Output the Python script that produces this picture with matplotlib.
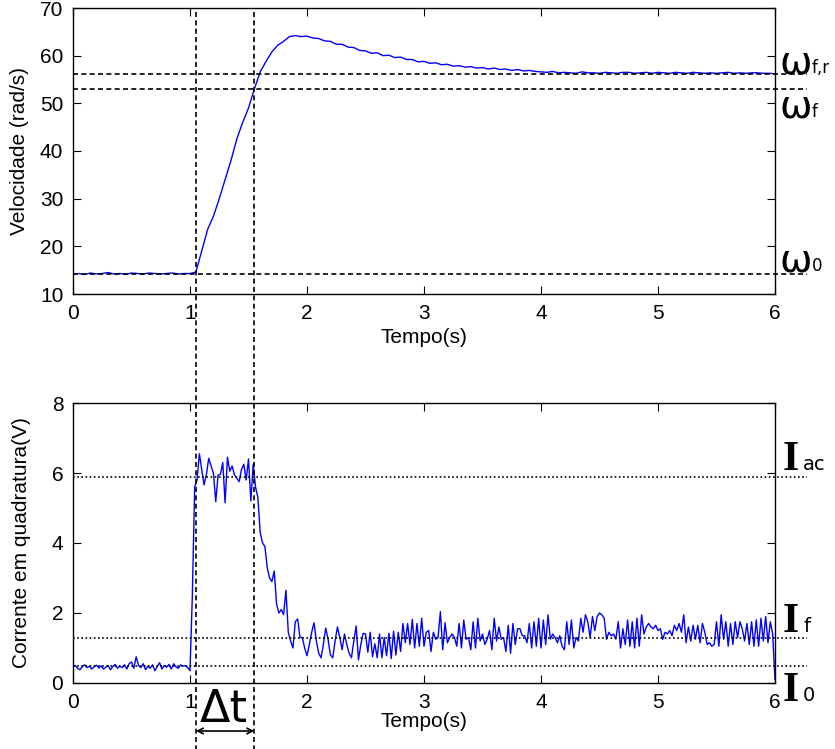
import numpy as np
import matplotlib
matplotlib.use("Agg")
import matplotlib.pyplot as plt
from matplotlib.transforms import blended_transform_factory

# ---------------- data ----------------
# velocity (rad/s), sampled every 0.05 s from 0 to 6 s
vel_dt = 0.05
velocity = [
    14.2, 14.3, 14.1, 14.4, 14.2, 14.3, 14.5, 14.2, 14.3, 14.1,
    14.4, 14.3, 14.2, 14.4, 14.3, 14.2, 14.3, 14.4, 14.2, 14.3,
    14.3, 14.6, 19.0, 23.5, 26.3, 30.0, 34.0, 38.0, 42.5, 46.0,
    49.0, 53.0, 56.6, 58.8, 60.8, 62.2, 63.0, 64.0, 64.2, 64.0,
    64.1, 63.7, 63.6, 63.1, 63.0, 62.4, 62.4, 61.8, 61.7, 61.1,
    61.0, 60.5, 60.6, 60.0, 60.1, 59.6, 59.7, 59.2, 59.2, 58.7,
    58.8, 58.4, 58.5, 58.1, 58.2, 57.8, 57.9, 57.6, 57.7, 57.4,
    57.5, 57.2, 57.4, 57.1, 57.2, 56.9, 57.1, 56.8, 56.9, 56.7,
    56.6, 56.5, 56.7, 56.4, 56.5, 56.4, 56.3, 56.6, 56.4, 56.4,
    56.3, 56.5, 56.4, 56.3, 56.5, 56.5, 56.3, 56.4, 56.5, 56.3,
    56.5, 56.4, 56.3, 56.5, 56.4, 56.3, 56.5, 56.4, 56.3, 56.4,
    56.3, 56.4, 56.5, 56.3, 56.4, 56.3, 56.4, 56.4, 56.3, 56.3,
    56.2,
]

# quadrature current (V), sampled every 0.02 s from 0 to 6 s
cur_dt = 0.02
current = [
    # 0.00 - 0.98
    0.45, 0.50, 0.42, 0.38, 0.47, 0.52, 0.44, 0.48, 0.40, 0.46,
    0.51, 0.43, 0.49, 0.40, 0.45, 0.50, 0.38, 0.47, 0.53, 0.42,
    0.48, 0.44, 0.52, 0.40, 0.55, 0.60, 0.42, 0.75, 0.50, 0.44,
    0.55, 0.38, 0.48, 0.42, 0.52, 0.35, 0.47, 0.58, 0.40, 0.50,
    0.45, 0.53, 0.40, 0.55, 0.46, 0.42, 0.52, 0.48, 0.50, 0.44,
    # 1.00 - 1.98
    0.35, 2.50, 5.60, 5.80, 6.55, 6.10, 5.66, 5.95, 6.42, 6.20,
    6.00, 5.18, 5.94, 5.96, 6.30, 5.15, 6.45, 6.05, 6.20, 5.95,
    5.85, 5.75, 6.10, 6.25, 5.80, 6.40, 5.20, 6.25, 5.60, 5.30,
    4.30, 4.00, 3.90, 3.30, 3.00, 2.90, 3.20, 2.25, 2.00, 2.10,
    1.95, 2.65, 1.45, 1.20, 1.00, 1.75, 1.83, 1.30, 1.30, 1.00,
    # 2.00 - 2.98
    0.78, 1.10, 1.45, 1.72, 1.20, 0.85, 0.72, 1.10, 1.57, 1.25,
    0.80, 0.72, 1.20, 1.60, 1.30, 0.95, 1.40, 1.10, 0.85, 0.72,
    1.20, 1.63, 0.66, 1.10, 1.42, 1.40, 0.88, 1.45, 0.75, 1.12,
    0.72, 1.40, 0.72, 1.30, 0.78, 1.42, 0.70, 1.48, 0.80, 1.45,
    0.90, 1.70, 1.15, 1.70, 1.10, 1.82, 1.00, 1.70, 1.05, 1.85,
    # 3.00 - 3.98
    1.05, 1.45, 1.50, 0.90, 1.45, 1.25, 1.30, 2.04, 0.95, 1.72,
    1.15, 1.30, 1.40, 1.30, 1.05, 1.70, 1.00, 1.80, 1.25, 1.30,
    0.95, 1.75, 1.00, 1.85, 1.20, 1.40, 1.10, 1.25, 1.50, 0.95,
    1.85, 1.20, 1.60, 1.25, 1.30, 0.90, 1.65, 0.85, 1.70, 1.10,
    1.55, 1.55, 1.35, 1.35, 1.15, 1.70, 1.00, 1.75, 1.05, 1.85,
    # 4.00 - 4.98
    1.00, 1.80, 1.10, 1.95, 1.25, 1.40, 1.30, 1.15, 1.35, 1.05,
    0.95, 1.75, 1.10, 1.80, 1.00, 1.30, 1.20, 1.85, 1.45, 1.95,
    1.75, 1.30, 1.90, 1.50, 1.90, 2.00, 1.95, 1.85, 1.25, 1.45,
    1.35, 1.40, 1.25, 1.75, 1.00, 1.55, 1.10, 1.80, 1.05, 1.75,
    1.00, 1.85, 1.05, 1.95, 1.40, 1.60, 1.70, 1.60, 1.55, 1.65,
    # 5.00 - 5.98
    1.50, 1.55, 1.25, 1.45, 1.40, 1.50, 1.35, 1.65, 1.50, 1.70,
    1.45, 1.95, 1.15, 1.60, 1.20, 1.65, 1.25, 1.65, 1.15, 1.70,
    1.45, 1.10, 1.15, 1.05, 1.10, 1.75, 1.05, 1.95, 1.25, 1.75,
    1.05, 1.70, 1.10, 1.75, 1.30, 1.75, 1.55, 1.20, 1.70, 1.10,
    1.75, 1.05, 1.80, 1.05, 1.85, 1.20, 1.90, 1.15, 1.75, 1.40,
    # 6.00
    0.10,
]

# reference levels
omega_0 = 14.3
omega_f = 53.0
omega_fr = 56.2
I_0 = 0.5
I_f = 1.3
I_ac = 5.9
t_start = 1.05
t_end = 1.55

t_vel = np.arange(len(velocity)) * vel_dt
t_cur = np.arange(len(current)) * cur_dt

# ---------------- figure ----------------
plt.rcParams['font.family'] = ['Liberation Sans', 'DejaVu Sans']
fig = plt.figure(figsize=(8.35, 7.49), dpi=100)

W, H = 835, 749
def axrect(x0, y0, x1, y1):
    return [x0 / W, 1 - y1 / H, (x1 - x0) / W, (y1 - y0) / H]

ax1 = fig.add_axes(axrect(73, 8, 775, 294))
ax2 = fig.add_axes(axrect(73, 403, 775, 683))

fs = 15
for ax in (ax1, ax2):
    ax.tick_params(direction='in', top=True, right=True, length=6,
                   width=0.8, labelsize=fs, colors='black', pad=7)
    for s in ax.spines.values():
        s.set_linewidth(1.0)
    ax.set_xlim(0, 6)
    ax.set_xticks(range(0, 7))

ax1.plot(t_vel, velocity, color='#0000ff', lw=1.0)
ax1.set_ylim(10, 70)
ax1.set_yticks(range(10, 71, 10))
ax1.set_xlabel('Tempo(s)', fontsize=fs, labelpad=4)
ax1.set_ylabel('Velocidade (rad/s)', fontsize=fs, labelpad=8)

ax2.plot(t_cur, current, color='#0000ff', lw=1.0)
ax2.set_ylim(0, 8)
ax2.set_yticks(range(0, 9, 2))
ax2.set_xlabel('Tempo(s)', fontsize=fs, labelpad=0)
ax2.set_ylabel('Corrente em quadratura(V)', fontsize=fs, labelpad=15)

x_ext = 6.27
for v in (omega_0, omega_f, omega_fr):
    ax1.plot([0, x_ext], [v, v], color='black', lw=1.2,
             dashes=(3, 2), clip_on=False, zorder=3)
for v in (I_0, I_f, I_ac):
    ax2.plot([0, x_ext], [v, v], color='black', lw=1.2,
             linestyle=(0, (1, 1.5)), clip_on=False, zorder=3)

# vertical dashed markers spanning both panels
tr = blended_transform_factory(ax1.transData, fig.transFigure)
for tv in (t_start, t_end):
    fig.add_artist(plt.Line2D([tv, tv], [1 - 12 / H, 0.0], transform=tr,
                              color='black', lw=1.2, dashes=(3, 2)))

# Delta t arrow and label
ax1.annotate('', xy=(t_start, 1 - 731 / H), xytext=(t_end, 1 - 731 / H),
             xycoords=tr, textcoords=tr,
             arrowprops=dict(arrowstyle='<->', color='black', lw=1.2,
                             shrinkA=0, shrinkB=0))
fig.text(224 / W, 1 - 710 / H, 'Δt',
         fontsize=32, ha='center', va='center', family='DejaVu Sans')

# omega labels (top panel), positioned in pixel rows
omega_pos = [(73, 'f,r'), (117, 'f'), (271, '0')]
for yb, sub in omega_pos:
    fig.text(779 / W, 1 - yb / H, 'ω', fontsize=28,
             ha='left', va='baseline', family='DejaVu Sans')
    fig.text(812 / W, 1 - yb / H, sub, fontsize=12,
             ha='left', va='baseline', family='DejaVu Sans')

# current labels (bottom panel)
I_pos = [(470, 'ac'), (632, 'f'), (701, '0')]
for yb, sub in I_pos:
    fig.text(783 / W, 1 - yb / H, 'I', fontsize=30, fontweight='bold',
             ha='left', va='baseline', family='Liberation Serif')
    fig.text(803 / W, 1 - yb / H, sub, fontsize=14,
             ha='left', va='baseline', family='DejaVu Sans')

fig.savefig('out.png', dpi=100)
